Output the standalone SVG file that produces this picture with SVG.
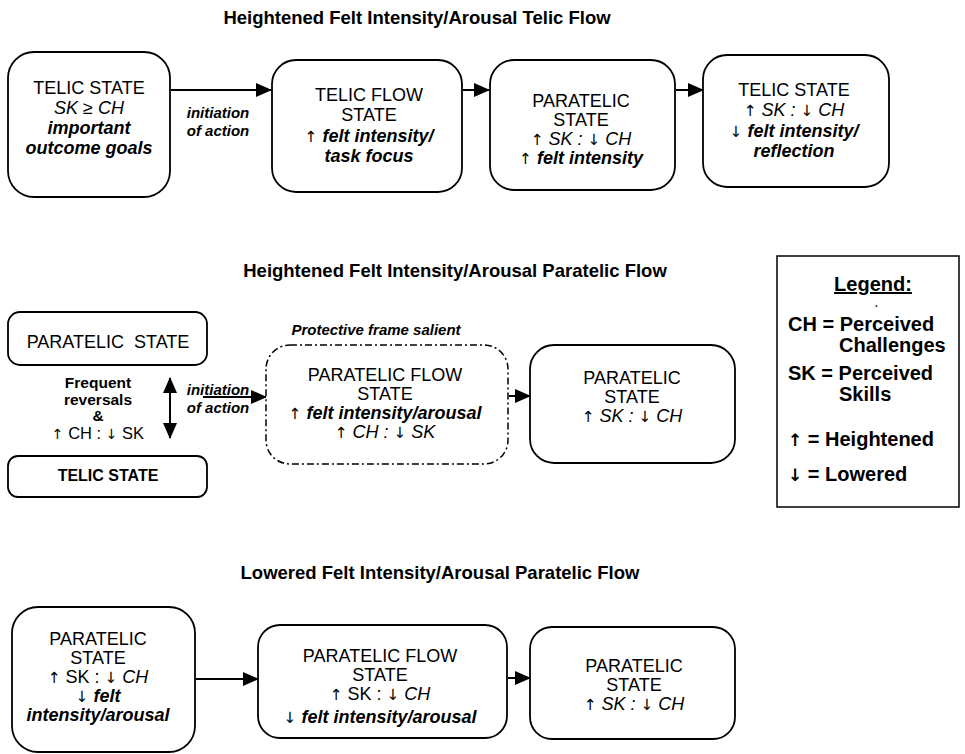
<svg xmlns="http://www.w3.org/2000/svg" width="965" height="754" viewBox="0 0 965 754">
<defs>
<style>
text{font-family:"Liberation Sans","DejaVu Sans",Arial,sans-serif;fill:#000;text-anchor:middle}
.a{font-family:"DejaVu Sans",sans-serif;font-style:normal;font-weight:normal;font-size:0.85em}
.t{font-size:18.5px;font-weight:bold}
.n{font-size:18px}
.i{font-style:italic}
.bi{font-style:italic;font-weight:bold}
.b{font-weight:bold}
.lbl{font-size:15px;font-style:italic;font-weight:bold}
.lg{font-size:20px;font-weight:bold;text-anchor:start}
.box{fill:#fff;stroke:#000;stroke-width:1.8}
.dash{fill:#fff;stroke:#000;stroke-width:1.5;stroke-dasharray:7,3,2,3}
.ln{fill:none;stroke:#000;stroke-width:2}
</style>
<marker id="ah" markerWidth="16" markerHeight="14" refX="15" refY="7" orient="auto-start-reverse" markerUnits="userSpaceOnUse">
<path d="M0,0 L16,7 L0,14 Z" fill="#000"/>
</marker>
</defs>
<rect width="965" height="754" fill="#fff"/>

<text class="t" x="417" y="24">Heightened Felt Intensity/Arousal Telic Flow</text>
<text class="t" x="455" y="277">Heightened Felt Intensity/Arousal Paratelic Flow</text>
<text class="t" x="440" y="579">Lowered Felt Intensity/Arousal Paratelic Flow</text>

<g id="connectors">
<line class="ln" x1="171" y1="90" x2="271" y2="90" marker-end="url(#ah)"/>
<line class="ln" x1="463" y1="90" x2="489" y2="90" marker-end="url(#ah)"/>
<line class="ln" x1="676" y1="90" x2="703" y2="90" marker-end="url(#ah)"/>
<line class="ln" x1="170" y1="378" x2="170" y2="438" marker-start="url(#ah)" marker-end="url(#ah)"/>
<line class="ln" x1="203" y1="397" x2="266" y2="397" marker-end="url(#ah)"/>
<line class="ln" x1="509" y1="396" x2="530" y2="396" marker-end="url(#ah)"/>
<line class="ln" x1="196" y1="679" x2="258" y2="679" marker-end="url(#ah)"/>
<line class="ln" x1="508" y1="678" x2="530" y2="678" marker-end="url(#ah)"/>
<text class="lbl" x="218" y="118">initiation</text>
<text class="lbl" x="218" y="136">of action</text>
<text class="lbl" x="218" y="395">initiation</text>
<text class="lbl" x="218" y="413">of action</text>
</g>

<g id="telic1">
<rect class="box" x="8" y="52" width="162" height="145" rx="26"/>
<text class="n" x="89" y="94">TELIC STATE</text>
<text class="n i" x="89" y="114">SK ≥ CH</text>
<text class="n bi" x="89" y="134">important</text>
<text class="n bi" x="89" y="154">outcome goals</text>
</g>

<g id="telicflow">
<rect class="box" x="272" y="60" width="190" height="132" rx="24"/>
<text class="n" x="369" y="101">TELIC FLOW</text>
<text class="n" x="369" y="121">STATE</text>
<text class="n" x="369" y="142"><tspan class="a">↑</tspan> <tspan class="bi">felt intensity/</tspan></text>
<text class="n bi" x="369" y="162">task focus</text>
</g>

<g id="paratelic1">
<rect class="box" x="490" y="60" width="185" height="130" rx="24"/>
<text class="n" x="581" y="107">PARATELIC</text>
<text class="n" x="581" y="126">STATE</text>
<text class="n i" x="581" y="145"><tspan class="a">↑</tspan> SK : <tspan class="a">↓</tspan> CH</text>
<text class="n" x="581" y="164"><tspan class="a">↑</tspan> <tspan class="bi">felt intensity</tspan></text>
</g>

<g id="telic2">
<rect class="box" x="703" y="55" width="186" height="132" rx="24"/>
<text class="n" x="794" y="96">TELIC STATE</text>
<text class="n i" x="794" y="116"><tspan class="a">↑</tspan> SK : <tspan class="a">↓</tspan> CH</text>
<text class="n" x="794" y="137"><tspan class="a">↓</tspan> <tspan class="bi">felt intensity/</tspan></text>
<text class="n bi" x="794" y="157">reflection</text>
</g>

<g id="paratelic-left">
<rect class="box" x="8" y="312" width="199" height="53" rx="12"/>
<text class="n" x="108" y="348" xml:space="preserve">PARATELIC  STATE</text>
</g>

<g id="reversals">
<text class="b" style="font-size:15.5px" x="98" y="388">Frequent</text>
<text class="b" style="font-size:15.5px" x="98" y="405">reversals</text>
<text class="b" style="font-size:15.5px" x="98" y="421">&amp;</text>
<text style="font-size:16.5px" x="98" y="439"><tspan class="a">↑</tspan> CH : <tspan class="a">↓</tspan> SK</text>
</g>

<g id="telic-left">
<rect class="box" x="8" y="456" width="199" height="41" rx="10"/>
<text class="b" style="font-size:16px" x="108" y="481">TELIC STATE</text>
</g>

<g id="paratelicflow">
<text class="lbl" x="376" y="335">Protective frame salient</text>
<rect class="dash" x="266" y="345" width="242" height="119" rx="24"/>
<text class="n" x="385" y="381">PARATELIC FLOW</text>
<text class="n" x="385" y="400">STATE</text>
<text class="n" x="385" y="419"><tspan class="a">↑</tspan> <tspan class="bi">felt intensity/arousal</tspan></text>
<text class="n i" x="385" y="438"><tspan class="a">↑</tspan> CH : <tspan class="a">↓</tspan> SK</text>
</g>

<g id="paratelic2">
<rect class="box" x="530" y="345" width="205" height="118" rx="24"/>
<text class="n" x="632" y="384">PARATELIC</text>
<text class="n" x="632" y="403">STATE</text>
<text class="n i" x="632" y="422"><tspan class="a">↑</tspan> SK : <tspan class="a">↓</tspan> CH</text>
</g>

<g id="legend">
<rect x="777" y="256" width="182" height="251" fill="#fff" stroke="#000" stroke-width="1.5"/>
<text class="lg" x="873" y="291" style="text-anchor:middle;text-decoration:underline">Legend:</text>
<text class="lg" x="875" y="307" style="font-size:10px">.</text>
<text class="lg" x="788" y="331">CH = Perceived</text>
<text class="lg" x="839" y="352">Challenges</text>
<text class="lg" x="788" y="380">SK = Perceived</text>
<text class="lg" x="839" y="401">Skills</text>
<text class="lg" x="788" y="446"><tspan class="a" style="font-weight:bold">↑</tspan> = Heightened</text>
<text class="lg" x="788" y="481"><tspan class="a" style="font-weight:bold">↓</tspan> = Lowered</text>
</g>

<g id="paratelic3">
<rect class="box" x="12" y="607" width="183" height="145" rx="26"/>
<text class="n" x="98" y="645">PARATELIC</text>
<text class="n" x="98" y="664">STATE</text>
<text class="n" x="98" y="683"><tspan class="a">↑</tspan> SK : <tspan class="a">↓</tspan> <tspan class="i">CH</tspan></text>
<text class="n" x="98" y="702"><tspan class="a">↓</tspan> <tspan class="bi">felt</tspan></text>
<text class="n bi" x="98" y="721">intensity/arousal</text>
</g>

<g id="paratelicflow2">
<rect class="box" x="258" y="625" width="249" height="113" rx="22"/>
<text class="n" x="380" y="662">PARATELIC FLOW</text>
<text class="n" x="380" y="681">STATE</text>
<text class="n" x="380" y="700"><tspan class="a">↑</tspan> SK : <tspan class="a">↓</tspan> <tspan class="i">CH</tspan></text>
<text class="n" x="380" y="723"><tspan class="a">↓</tspan> <tspan class="bi">felt intensity/arousal</tspan></text>
</g>

<g id="paratelic4">
<rect class="box" x="530" y="627" width="205" height="112" rx="22"/>
<text class="n" x="634" y="672">PARATELIC</text>
<text class="n" x="634" y="691">STATE</text>
<text class="n i" x="634" y="710"><tspan class="a">↑</tspan> SK : <tspan class="a">↓</tspan> CH</text>
</g>
</svg>
